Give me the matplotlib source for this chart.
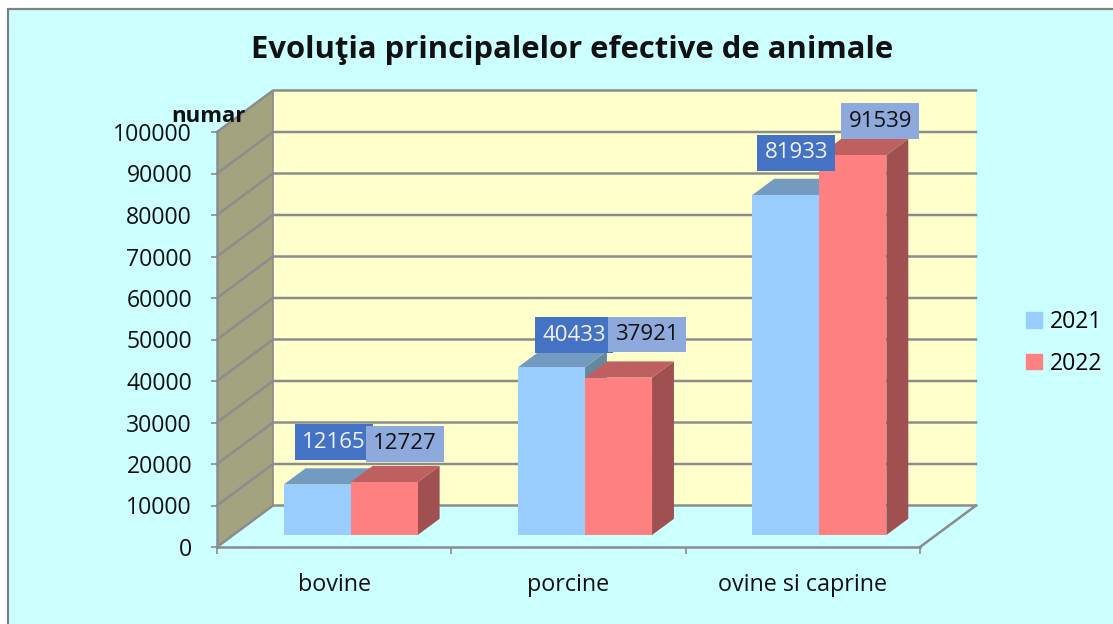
import matplotlib
matplotlib.use("Agg")
from matplotlib import pyplot as plt
from matplotlib.patches import Patch, Polygon, Rectangle

categories = ["bovine", "porcine", "ovine si caprine"]
years = ["2021", "2022"]
values_2021 = [12165, 40433, 81933]
values_2022 = [12727, 37921, 91539]
y_ticks = [0, 10000, 20000, 30000, 40000, 50000, 60000, 70000, 80000, 90000, 100000]

# label shift from the bar corner, in pixels (they were hand placed in the original)
label_shift_2021 = [(50.5, 42.5), (56, 32), (44, 42)]
label_shift_2022 = [(54.5, 38.5), (62, 43), (61, 34)]

BG = "#CCFFFF"
WALL = "#FFFFCC"
SIDE = "#A3A380"
GRID = "#8C8C8C"
FONT = "Open Sans"

# depth direction of the fake 3d box, in data units per unit of depth
DEPTH_X = 56 / 234.33
DEPTH_Y = 41.5 / 0.00415
BAR_FRONT = 0.289
BAR_BACK = 0.68
BAR_WIDTH = 0.286
BAR_START = 0.2155


def project(x, y, d):
    return (x + d * DEPTH_X, y + d * DEPTH_Y)


def face(ax, points, color, z):
    ax.add_patch(Polygon(points, closed=True, facecolor=color, edgecolor="none",
                         clip_on=False, zorder=z))


def draw_bar(ax, x, value, front, side, top, z):
    x2 = x + BAR_WIDTH
    face(ax, [project(x2, 0, BAR_FRONT), project(x2, 0, BAR_BACK),
              project(x2, value, BAR_BACK), project(x2, value, BAR_FRONT)], side, z)
    face(ax, [project(x, value, BAR_FRONT), project(x2, value, BAR_FRONT),
              project(x2, value, BAR_BACK), project(x, value, BAR_BACK)], top, z)
    face(ax, [project(x, 0, BAR_FRONT), project(x2, 0, BAR_FRONT),
              project(x2, value, BAR_FRONT), project(x, value, BAR_FRONT)], front, z)


def add_label(ax, x, value, shift, text_color, box_color, z):
    ax.annotate(str(value), xy=project(x, value, BAR_FRONT),
                xytext=(shift[0] * 0.72, shift[1] * 0.72), textcoords="offset points",
                ha="center", va="center", fontsize=16, family=FONT, color=text_color,
                bbox=dict(boxstyle="square,pad=0.33", facecolor=box_color, edgecolor="none"),
                annotation_clip=False, zorder=z)


fig = plt.figure(figsize=(11.13, 6.24), dpi=100, facecolor="white")
fig.add_artist(Rectangle((8 / 1113, -0.1), 1.2, 1.1 - 9 / 624, transform=fig.transFigure,
                         facecolor=BG, edgecolor="#808080", linewidth=1.6, zorder=-1))

ax = fig.add_axes([217 / 1113, 77 / 624, 703 / 1113, 415 / 624])
ax.patch.set_alpha(0)
ax.set_xlim(0, 3)
ax.set_ylim(0, 100000)

face(ax, [project(0, 0, 1), project(3, 0, 1), project(3, 100000, 1), project(0, 100000, 1)], WALL, 1)
face(ax, [project(0, 0, 0), project(0, 0, 1), project(0, 100000, 1), project(0, 100000, 0)], SIDE, 1)

for t in y_ticks:
    xs, ys = zip(project(0, t, 0), project(0, t, 1), project(3, t, 1))
    ax.plot(xs, ys, color=GRID, linewidth=1.8, clip_on=False, zorder=2)
xs, ys = zip(project(0, 100000, 1), project(0, 0, 1))
ax.plot(xs, ys, color=GRID, linewidth=1.2, clip_on=False, zorder=2)
xs, ys = zip(project(3, 0, 0), project(3, 0, 1))
ax.plot(xs, ys, color=GRID, linewidth=1.8, clip_on=False, zorder=2)
# floor has the page colour, the wall stops at its back edge
face(ax, [project(0, 0, 0), project(3, 0, 0), project(3, 0, 1), project(0, 0, 1)], BG, 1.5)

for i in range(len(categories)):
    x = i + BAR_START
    draw_bar(ax, x, values_2021[i], "#99CCFF", "#64899F", "#739BC0", 3 + i)
    draw_bar(ax, x + BAR_WIDTH, values_2022[i], "#FF8080", "#A05050", "#BF6060", 3.5 + i)
    add_label(ax, x, values_2021[i], label_shift_2021[i], "#F2F2F2", "#4472C4", 10)
    add_label(ax, x + BAR_WIDTH, values_2022[i], label_shift_2022[i], "#111111", "#8EA9DB", 11)

for s in ["top", "right"]:
    ax.spines[s].set_visible(False)
for s in ["left", "bottom"]:
    ax.spines[s].set_color(GRID)
    ax.spines[s].set_linewidth(1.8)
    ax.spines[s].set_zorder(2.5)

ax.set_yticks(y_ticks)
ax.set_xticks([0, 1, 2, 3])
ax.set_xticklabels([])
ax.set_xticks([0.5, 1.5, 2.5], minor=True)
ax.set_xticklabels(categories, minor=True, fontsize=16.8, family=FONT, color="#111111")
ax.tick_params(axis="x", which="major", length=5, width=1.2, color=GRID)
ax.tick_params(axis="x", which="minor", length=0, pad=19)
ax.tick_params(axis="y", length=4, width=1.2, color=GRID, pad=14, labelcolor="#111111")
for label in ax.get_yticklabels():
    label.set_fontsize(16.6)
    label.set_family(FONT)

fig.text(572 / 1113, 1 - 50 / 624, "Evoluţia principalelor efective de animale", ha="center",
         va="center", fontsize=22.3, fontweight="bold", family=FONT, color="#111111")
fig.text(208 / 1113, 1 - 117 / 624, "numar", ha="center", va="center", fontsize=16,
         fontweight="bold", family=FONT, color="#111111", zorder=20)

handles = [Patch(color="#99CCFF"), Patch(color="#FF8080")]
ax.legend(handles, years, loc="center left", bbox_to_anchor=(1026 / 1113, 1 - 343 / 624),
          bbox_transform=fig.transFigure, frameon=False, handlelength=0.68, handleheight=0.68,
          handletextpad=0.36, labelspacing=0.75, borderpad=0, borderaxespad=0,
          prop={"family": FONT, "size": 16.6})

fig.savefig("out.png", dpi=100)
